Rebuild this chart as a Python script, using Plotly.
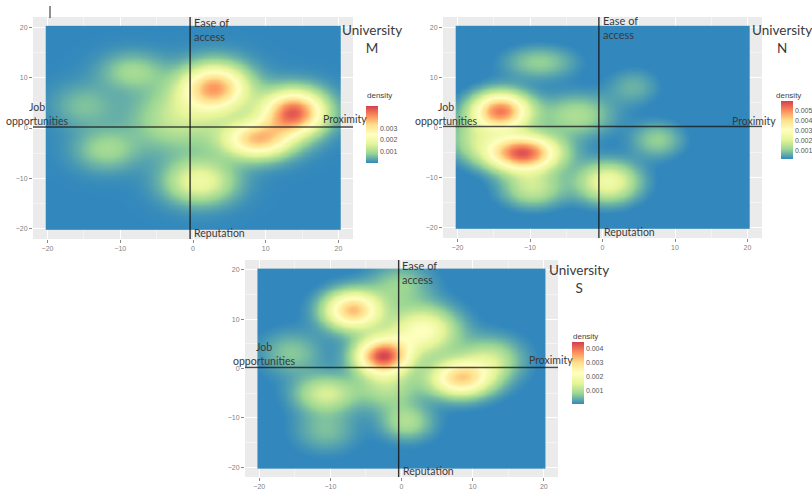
import numpy as np
import plotly.graph_objects as go

W, H = 812, 489

# ---------------- data ----------------
# Each university: density hot-spots -> centre (x, y), peak density, spread (x, y)
m_cx   = [3.0, 13.8, 8.8, 0.9, -8.4, -12.0, -2.0, -15.0]
m_cy   = [8.1, 3.2, -2.2, -10.5, 11.3, -4.2, 2.0, 4.5]
m_peak = [0.0037, 0.0045, 0.0034, 0.0019, 0.0009, 0.0009, 0.0013, 0.0006]
m_sx   = [3.2, 3.0, 3.3, 3.3, 3.0, 3.0, 4.5, 3.0]
m_sy   = [3.2, 3.0, 2.6, 3.0, 2.5, 2.8, 4.5, 3.0]

n_cx   = [-14.1, -11.1, 0.7, -9.7, -8.75, -3.6, 7.5, 4.2, -18.0]
n_cy   = [3.4, -5.0, -10.8, -12.0, 13.0, 2.5, -2.4, 8.2, -2.0]
n_peak = [0.0051, 0.0056, 0.0025, 0.0017, 0.0011, 0.0014, 0.0011, 0.0007, 0.0012]
n_sx   = [2.8, 3.5, 3.0, 3.0, 3.5, 3.5, 2.5, 2.5, 2.5]
n_sy   = [2.6, 2.5, 2.8, 2.6, 2.3, 3.0, 2.5, 2.5, 3.0]

s_cx   = [-2.7, -6.9, 8.2, 3.0, -10.7, 0.7, 12.5, -15.5, -0.3, -10.7, -2.0]
s_cy   = [2.6, 11.9, -1.9, 7.8, -5.0, -10.8, 2.0, 3.2, 17.0, -12.5, -4.0]
s_peak = [0.0042, 0.0033, 0.0030, 0.0022, 0.0014, 0.0010, 0.0012, 0.0007, 0.0008, 0.0006, 0.0010]
s_sx   = [2.6, 2.8, 3.1, 3.3, 3.0, 2.5, 3.0, 3.0, 3.0, 3.0, 3.0]
s_sy   = [2.6, 2.7, 2.6, 3.3, 2.6, 2.5, 3.0, 3.0, 3.0, 3.0, 3.0]

axis_ticks = [-20, -10, 0, 10, 20]
m_cb_ticks = [0.001, 0.002, 0.003]
n_cb_ticks = [0.001, 0.002, 0.003, 0.004, 0.005]
s_cb_ticks = [0.001, 0.002, 0.003, 0.004]
m_zrange = [0.0, 0.0049]
n_zrange = [0.00019, 0.0059]
s_zrange = [0.00008, 0.00448]

# ---------------- density surfaces (gaussian kernel smoothing) ----------------
grid = np.arange(-20, 20.001, 0.5)
GX, GY = np.meshgrid(grid, grid)


def surface(cx, cy, peak, sx, sy):
    z = np.zeros_like(GX)
    for a, b, p, u, v in zip(cx, cy, peak, sx, sy):
        z += p * np.exp(-0.5 * ((GX - a) / u) ** 2 - 0.5 * ((GY - b) / v) ** 2)
    return z


spectral = [[0.0, '#3288BD'], [1 / 6, '#99D594'], [2 / 6, '#E6F598'],
            [3 / 6, '#FFFFBF'], [4 / 6, '#FEE08B'], [5 / 6, '#FC8D59'], [1.0, '#D53E4F']]


def px(x):
    return x / W


def py(y):
    return 1 - y / H


panels = [
    dict(ax='', box=(33, 17, 353, 239), data=(m_cx, m_cy, m_peak, m_sx, m_sy),
         cb=(366, 106, 163), ticks=m_cb_ticks, zr=m_zrange, vline=-0.4),
    dict(ax='2', box=(443, 17, 762, 238), data=(n_cx, n_cy, n_peak, n_sx, n_sy),
         cb=(781, 101, 159), ticks=n_cb_ticks, zr=n_zrange, vline=-0.5),
    dict(ax='3', box=(245, 260, 558, 477), data=(s_cx, s_cy, s_peak, s_sx, s_sy),
         cb=(572, 342, 404), ticks=s_cb_ticks, zr=s_zrange, vline=-0.4),
]

fig = go.Figure()
shapes = []
layout_axes = {}
for p in panels:
    x0, y0, x1, y1 = p['box']
    ax = p['ax']
    z = surface(*p['data'])
    cl, ct, cbt = p['cb']
    fig.add_trace(go.Heatmap(
        x=grid, y=grid, z=z, xaxis='x' + ax, yaxis='y' + ax,
        colorscale=spectral, zmin=p['zr'][0], zmax=p['zr'][1], zsmooth='best',
        hoverinfo='skip',
        colorbar=dict(x=px(cl), xanchor='left', xpad=0, ypad=0,
                      y=py((ct + cbt) / 2), yanchor='middle',
                      lenmode='pixels', len=cbt - ct, thickness=12,
                      outlinewidth=0, ticks='', tickvals=p['ticks'], tickformat='.3f',
                      tickfont=dict(family='Liberation Sans', size=7, color='#555555')),
    ))
    common = dict(range=[-22, 22], tickvals=axis_ticks, ticks='outside', ticklen=3,
                  tickcolor='#888888', tickfont=dict(family='Liberation Sans', size=7, color='#7f7f7f'),
                  showgrid=True, gridcolor='white', gridwidth=1, zeroline=False, showline=False,
                  minor=dict(dtick=5, showgrid=True, gridcolor='#F4F4F4', gridwidth=0.5),
                  fixedrange=True, automargin=False)
    layout_axes['xaxis' + ax] = dict(common, domain=[px(x0), px(x1)], anchor='y' + ax)
    layout_axes['yaxis' + ax] = dict(common, domain=[py(y1), py(y0)], anchor='x' + ax)
    xr = 'x' + ax
    yr = 'y' + ax
    shapes.append(dict(type='line', xref=xr, yref=yr + ' domain', x0=p['vline'], x1=p['vline'],
                       y0=0, y1=1, line=dict(color='rgba(20,20,20,0.85)', width=1.4)))
    shapes.append(dict(type='line', xref=xr + ' domain', yref=yr, x0=0, x1=1, y0=0.2, y1=0.2,
                       line=dict(color='rgba(20,20,20,0.75)', width=1.4)))

# small stray mark at top-left of the first panel
shapes.append(dict(type='line', xref='paper', yref='paper', x0=px(50), x1=px(50),
                   y0=py(6), y1=py(18), line=dict(color='#222222', width=1)))

TF = 'Lato, Calibri, Carlito, sans-serif'
TC = '#3a3a3a'
ann = []


def add(text, x, y, xa='left', ya='middle', size=11, align='left', color=TC):
    ann.append(dict(text=text, x=px(x), y=py(y), xref='paper', yref='paper',
                    xanchor=xa, yanchor=ya, showarrow=False, align=align,
                    font=dict(family=TF, size=size, color=color)))


def add_small(text, x, y):
    ann.append(dict(text=text, x=px(x), y=py(y), xref='paper', yref='paper',
                    xanchor='left', yanchor='middle', showarrow=False,
                    font=dict(family='Liberation Sans', size=8, color='#444444')))


# University M
add('Ease of<br>access', 192, 29)
add('University<br>M', 372, 39, xa='center', size=13.5, align='center')
add('Job<br>opportunities', 37, 114, xa='center', align='center', size=10.5)
add('Proximity', 321, 119, size=10.5)
add('Reputation', 192, 233, size=10.5)
add_small('density', 365, 96)
# University N
add('Ease of<br>access', 601, 28)
add('University<br>N', 782, 39, xa='center', size=13.5, align='center')
add('Job<br>opportunities', 446, 114, xa='center', align='center', size=10.5)
add('Proximity', 730, 121, size=10.5)
add('Reputation', 602, 232, size=10.5)
add_small('density', 774, 95)
# University S
add('Ease of<br>access', 400, 272)
add('University<br>S', 579, 279, xa='center', size=13.5, align='center')
add('Job<br>opportunities', 264, 354, xa='center', align='center', size=10.5)
add('Proximity', 527, 360, size=10.5)
add('Reputation', 401, 471, size=10.5)
add_small('density', 571, 336)

fig.update_layout(width=W, height=H,
                  margin=dict(l=0, r=0, t=0, b=0, autoexpand=False),
                  paper_bgcolor='white', plot_bgcolor='#EBEBEB', showlegend=False,
                  shapes=shapes, annotations=ann, **layout_axes)

fig.write_html('out.html', config={'displayModeBar': False},
               post_script="document.body.style.margin='0';")
